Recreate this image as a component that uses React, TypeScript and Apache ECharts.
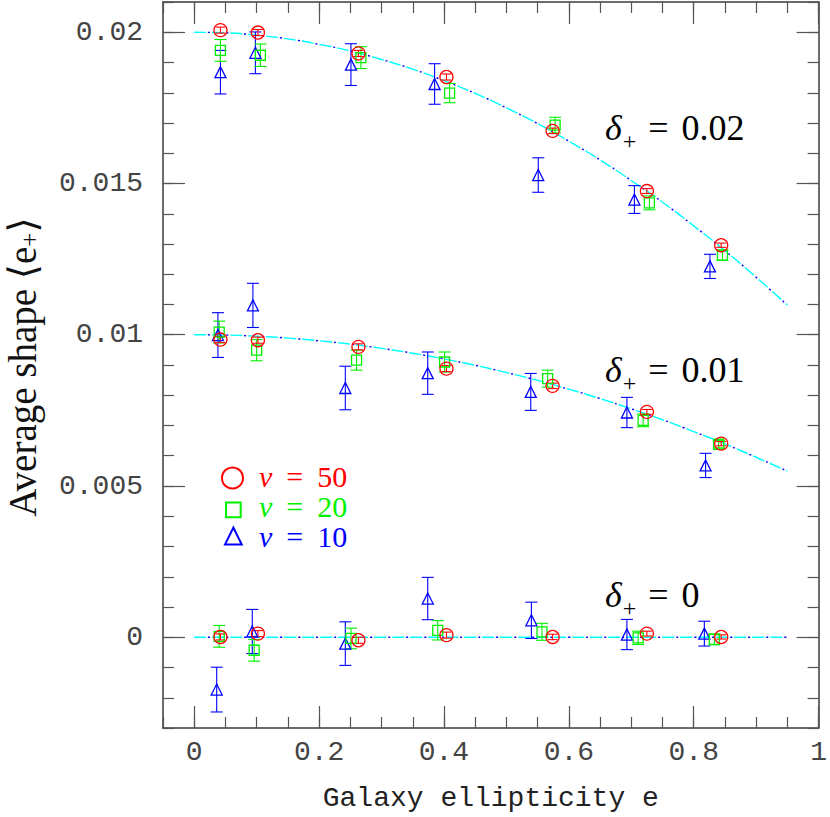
import React, { useEffect, useRef } from 'react';
import * as echarts from 'echarts';

// ---- axes ----
const xMajorTicks = [0, 0.2, 0.4, 0.6, 0.8, 1];
const xTickLabels = ['0', '0.2', '0.4', '0.6', '0.8', '1'];
const yMajorTicks = [0, 0.005, 0.01, 0.015, 0.02];
const yTickLabels = ['0', '0.005', '0.01', '0.015', '0.02'];

// ---- model curves ----
const curveE = [0, 0.05, 0.1, 0.15, 0.2, 0.25, 0.3, 0.35, 0.4, 0.45, 0.5, 0.55, 0.6, 0.65, 0.7, 0.75, 0.8, 0.85, 0.9, 0.95];
const curveDelta002 = [0.02, 0.01998, 0.0199, 0.01978, 0.0196, 0.01938, 0.0191, 0.01878, 0.0184, 0.01798, 0.0175, 0.01698, 0.0164, 0.01578, 0.0151, 0.01438, 0.0136, 0.01278, 0.0119, 0.01098];
const curveDelta001 = [0.01, 0.00999, 0.00995, 0.00989, 0.0098, 0.00969, 0.00955, 0.00939, 0.0092, 0.00899, 0.00875, 0.00849, 0.0082, 0.00789, 0.00755, 0.00719, 0.0068, 0.00639, 0.00595, 0.00549];
const curveDelta000 = [0, 0, 0, 0, 0, 0, 0, 0, 0, 0, 0, 0, 0, 0, 0, 0, 0, 0, 0, 0];

// ---- nu = 50 (red circles) ----
const nu50E = [0.042, 0.102, 0.263, 0.404, 0.574, 0.725, 0.844];
const nu50Delta002 = [0.02007, 0.01999, 0.0193, 0.01852, 0.01674, 0.01475, 0.01296];
const nu50Delta001 = [0.00984, 0.00982, 0.0096, 0.00888, 0.00831, 0.00745, 0.0064];
const nu50Delta000 = [0.00001, 0.00012, -0.0001, 0.00007, 0.00001, 0.00012, 0.00001];
const nu50Err = [0.0001, 0.0001, 0.0001, 0.0001, 0.00009, 0.00008, 0.00007];

// ---- nu = 20 (green squares) ----
const nu20E002 = [0.042, 0.106, 0.267, 0.409, 0.578, 0.729, 0.846];
const nu20E001 = [0.04, 0.1, 0.26, 0.401, 0.566, 0.719, 0.84];
const nu20E000 = [0.04, 0.096, 0.251, 0.39, 0.557, 0.711, 0.833];
const nu20Delta002 = [0.0194, 0.01924, 0.01916, 0.01799, 0.01693, 0.01436, 0.01263];
const nu20Delta001 = [0.01009, 0.00949, 0.00916, 0.0091, 0.00855, 0.00717, 0.00638];
const nu20Delta000 = [0.00003, -0.00043, -0.00004, 0.00023, 0.00018, -0.00002, -0.00007];
const nu20Err002 = [0.00036, 0.00037, 0.00036, 0.00032, 0.00026, 0.00023, 0.00017];
const nu20Err001 = [0.00036, 0.00035, 0.00033, 0.00033, 0.00028, 0.00021, 0.00012];
const nu20Err000 = [0.00036, 0.00036, 0.00034, 0.00032, 0.00028, 0.00022, 0.00018];

// ---- nu = 10 (blue triangles) ----
const nu10E002 = [0.042, 0.098, 0.251, 0.385, 0.551, 0.705, 0.826];
const nu10E001 = [0.038, 0.094, 0.242, 0.374, 0.539, 0.693, 0.819];
const nu10E000 = [0.036, 0.093, 0.242, 0.374, 0.54, 0.693, 0.817];
const nu10Delta002 = [0.01868, 0.01932, 0.01893, 0.01829, 0.01528, 0.01447, 0.01226];
const nu10Delta001 = [0.00999, 0.01097, 0.00824, 0.00873, 0.00811, 0.00743, 0.00568];
const nu10Delta000 = [-0.00173, 0.00019, -0.00021, 0.00128, 0.00056, 0.00009, 0.00012];
const nu10Err002 = [0.00072, 0.00069, 0.00069, 0.00067, 0.00057, 0.00046, 0.0004];
const nu10Err001 = [0.00074, 0.00073, 0.00072, 0.0007, 0.00061, 0.0005, 0.0004];
const nu10Err000 = [0.00074, 0.00073, 0.00072, 0.0007, 0.0006, 0.0005, 0.00041];

const RED = '#ff0000';
const GREEN = '#00f000';
const BLUE = '#0000ff';
const CYAN = '#00ffff';

const rows = (es: number[], ys: number[], errs: number[]) => es.map((e, i) => [e, ys[i], errs[i]]);

const nu50Rows = [
  ...rows(nu50E, nu50Delta002, nu50Err),
  ...rows(nu50E, nu50Delta001, nu50Err),
  ...rows(nu50E, nu50Delta000, nu50Err),
];
const nu20Rows = [
  ...rows(nu20E002, nu20Delta002, nu20Err002),
  ...rows(nu20E001, nu20Delta001, nu20Err001),
  ...rows(nu20E000, nu20Delta000, nu20Err000),
];
const nu10Rows = [
  ...rows(nu10E002, nu10Delta002, nu10Err002),
  ...rows(nu10E001, nu10Delta001, nu10Err001),
  ...rows(nu10E000, nu10Delta000, nu10Err000),
];

const MONO = '"Liberation Mono", "DejaVu Sans Mono", monospace';
const SERIF = '"Liberation Serif", "DejaVu Serif", serif';

function errorBarSeries(name: string, data: number[][], color: string, cap: number) {
  return {
    type: 'custom',
    name: name + ' err',
    xAxisIndex: 0,
    yAxisIndex: 0,
    data,
    encode: { x: 0, y: 1 },
    z: 3,
    silent: true,
    renderItem: (params: any, api: any) => {
      const x = api.value(0);
      const y = api.value(1);
      const e = api.value(2);
      const lo = api.coord([x, y - e]);
      const hi = api.coord([x, y + e]);
      const st = { stroke: color, lineWidth: 1.1, fill: 'none' };
      return {
        type: 'group',
        children: [
          { type: 'line', shape: { x1: lo[0], y1: lo[1], x2: hi[0], y2: hi[1] }, style: st },
          { type: 'line', shape: { x1: lo[0] - cap, y1: lo[1], x2: lo[0] + cap, y2: lo[1] }, style: st },
          { type: 'line', shape: { x1: hi[0] - cap, y1: hi[1], x2: hi[0] + cap, y2: hi[1] }, style: st },
        ],
      };
    },
  };
}

function markerSeries(name: string, data: number[][], color: string, symbol: string, size: any) {
  return {
    type: 'scatter',
    name,
    xAxisIndex: 0,
    yAxisIndex: 0,
    data: data.map((r) => [r[0], r[1]]),
    symbol,
    symbolSize: size,
    z: 4,
    itemStyle: { color: 'rgba(0,0,0,0)', borderColor: color, borderWidth: 1.3, opacity: 1 },
    emphasis: { disabled: true },
  };
}

function curveSeries(ys: number[]) {
  const data = curveE.map((e, i) => [e, ys[i]]);
  return [
    {
      type: 'line',
      data,
      xAxisIndex: 0,
      yAxisIndex: 0,
      smooth: true,
      showSymbol: false,
      silent: true,
      z: 2,
      lineStyle: { color: CYAN, width: 1.4, type: [12, 6] },
    },
    {
      type: 'line',
      data,
      xAxisIndex: 0,
      yAxisIndex: 0,
      smooth: true,
      showSymbol: false,
      silent: true,
      z: 2,
      lineStyle: { color: BLUE, width: 1.4, type: [2, 16], dashOffset: -14 },
    },
  ];
}

const axisLineStyle = { color: '#3a3a3a', width: 1.5 };
const tickStyle = { color: '#555555', width: 1.2 };

function xAxes() {
  const base = { type: 'value', min: -0.05, max: 1, splitLine: { show: false } };
  return [
    {
      ...base,
      position: 'bottom',
      axisLine: { show: true, onZero: false, lineStyle: axisLineStyle },
      axisTick: { show: true, inside: true, length: 22, customValues: xMajorTicks, lineStyle: tickStyle },
      axisLabel: {
        show: true,
        customValues: xMajorTicks,
        margin: 10,
        fontFamily: MONO,
        fontSize: 28,
        color: '#444444',
        formatter: (v: number) => {
          const i = xMajorTicks.findIndex((t) => Math.abs(t - v) < 1e-9);
          return i >= 0 ? xTickLabels[i] : '';
        },
      },
      name: 'Galaxy ellipticity e',
      nameLocation: 'middle',
      nameGap: 56,
      nameTextStyle: { fontFamily: MONO, fontSize: 28, color: '#222222' },
    },
    {
      ...base,
      position: 'bottom',
      interval: 0.05,
      axisLine: { show: false, onZero: false },
      axisTick: { show: true, inside: true, length: 11, lineStyle: tickStyle },
      axisLabel: { show: false },
    },
    {
      ...base,
      position: 'top',
      axisLine: { show: true, onZero: false, lineStyle: axisLineStyle },
      axisTick: { show: true, inside: true, length: 22, customValues: xMajorTicks, lineStyle: tickStyle },
      axisLabel: { show: false },
    },
    {
      ...base,
      position: 'top',
      interval: 0.05,
      axisLine: { show: false, onZero: false },
      axisTick: { show: true, inside: true, length: 11, lineStyle: tickStyle },
      axisLabel: { show: false },
    },
  ];
}

function yAxes() {
  const base = { type: 'value', min: -0.003, max: 0.021, splitLine: { show: false } };
  return [
    {
      ...base,
      position: 'left',
      axisLine: { show: true, onZero: false, lineStyle: axisLineStyle },
      axisTick: { show: true, inside: true, length: 22, customValues: yMajorTicks, lineStyle: tickStyle },
      axisLabel: {
        show: true,
        customValues: yMajorTicks,
        margin: 20,
        fontFamily: MONO,
        fontSize: 28,
        color: '#444444',
        formatter: (v: number) => {
          const i = yMajorTicks.findIndex((t) => Math.abs(t - v) < 1e-9);
          return i >= 0 ? yTickLabels[i] : '';
        },
      },
    },
    {
      ...base,
      position: 'left',
      interval: 0.001,
      axisLine: { show: false, onZero: false },
      axisTick: { show: true, inside: true, length: 11, lineStyle: tickStyle },
      axisLabel: { show: false },
    },
    {
      ...base,
      position: 'right',
      axisLine: { show: true, onZero: false, lineStyle: axisLineStyle },
      axisTick: { show: true, inside: true, length: 22, customValues: yMajorTicks, lineStyle: tickStyle },
      axisLabel: { show: false },
    },
    {
      ...base,
      position: 'right',
      interval: 0.001,
      axisLine: { show: false, onZero: false },
      axisTick: { show: true, inside: true, length: 11, lineStyle: tickStyle },
      axisLabel: { show: false },
    },
  ];
}

function deltaLabel(value: string, y: number) {
  return {
    type: 'text',
    x: 605,
    y,
    z: 10,
    style: {
      text: `{d|δ}{s|+}{e|=}{n|${value}}`,
      align: 'left',
      verticalAlign: 'middle',
      textAlign: 'left',
      textVerticalAlign: 'middle',
      fill: '#000000',
      fontFamily: SERIF,
      fontSize: 36,
      rich: {
        d: { fontFamily: SERIF, fontSize: 36, fontStyle: 'italic', lineHeight: 50, fill: '#000' },
        s: { fontFamily: SERIF, fontSize: 24, lineHeight: 20, verticalAlign: 'bottom', fill: '#000', padding: [0, 0, 0, 1] },
        e: { fontFamily: SERIF, fontSize: 36, lineHeight: 50, fill: '#000', padding: [0, 0, 0, 12] },
        n: { fontFamily: SERIF, fontSize: 36, lineHeight: 50, fill: '#000', padding: [0, 0, 0, 13] },
      },
    },
  };
}

function legendText(value: string, y: number, color: string) {
  return {
    type: 'text',
    x: 259,
    y,
    z: 10,
    style: {
      text: `{i|ν}{e|=}{n|${value}}`,
      align: 'left',
      verticalAlign: 'middle',
      textAlign: 'left',
      textVerticalAlign: 'middle',
      fill: color,
      fontFamily: SERIF,
      fontSize: 30,
      lineHeight: 27,
      rich: {
        i: { fontFamily: SERIF, fontSize: 30, lineHeight: 27, fontStyle: 'italic', fill: color },
        e: { fontFamily: SERIF, fontSize: 30, lineHeight: 27, fill: color, padding: [0, 0, 0, 14] },
        n: { fontFamily: SERIF, fontSize: 30, lineHeight: 27, fill: color, padding: [0, 0, 0, 14] },
      },
    },
  };
}

export default function App() {
  const ref = useRef<HTMLDivElement>(null);
  useEffect(() => {
    if (!ref.current) return;
    const chart = echarts.init(ref.current, undefined, { renderer: 'svg' });
    const option: any = {
      animation: false,
      backgroundColor: '#ffffff',
      grid: { left: 163, right: 7, top: 2, bottom: 88 },
      xAxis: xAxes(),
      yAxis: yAxes(),
      series: [
        ...curveSeries(curveDelta002),
        ...curveSeries(curveDelta001),
        ...curveSeries(curveDelta000),
        errorBarSeries('ν = 10', nu10Rows, BLUE, 6),
        errorBarSeries('ν = 20', nu20Rows, GREEN, 6),
        errorBarSeries('ν = 50', nu50Rows, RED, 5),
        markerSeries('ν = 10', nu10Rows, BLUE, 'triangle', [11, 11]),
        markerSeries('ν = 20', nu20Rows, GREEN, 'rect', 10),
        markerSeries('ν = 50', nu50Rows, RED, 'circle', 13),
      ],
      graphic: [
        {
          type: 'text',
          x: 22,
          y: 367,
          rotation: Math.PI / 2,
          z: 10,
          style: {
            text: 'Average shape ⟨e{s|+}⟩',
            align: 'center',
            verticalAlign: 'middle',
            textAlign: 'center',
            textVerticalAlign: 'middle',
            fill: '#111111',
            fontFamily: SERIF,
            fontSize: 39,
            lineHeight: 40,
            rich: {
              s: { fontFamily: SERIF, fontSize: 25, lineHeight: 18, verticalAlign: 'bottom', fill: '#111111' },
            },
          },
        },
        deltaLabel('0.02', 128),
        deltaLabel('0.01', 370),
        deltaLabel('0', 595),
        { type: 'circle', z: 10, shape: { cx: 232.5, cy: 478, r: 10.5 }, style: { fill: 'none', stroke: RED, lineWidth: 2 } },
        { type: 'rect', z: 10, shape: { x: 226, y: 502.5, width: 14.7, height: 14.7 }, style: { fill: 'none', stroke: GREEN, lineWidth: 2 } },
        {
          type: 'polygon',
          z: 10,
          shape: { points: [[225, 544.5], [241.7, 544.5], [233.4, 527.5]] },
          style: { fill: 'none', stroke: BLUE, lineWidth: 2 },
        },
        legendText('50', 476.5, RED),
        legendText('20', 506.5, GREEN),
        legendText('10', 536.5, BLUE),
      ],
    };
    chart.setOption(option);
    return () => chart.dispose();
  }, []);
  return (
    <div
      ref={ref}
      style={{ position: 'fixed', left: 0, top: 0, width: 830, height: 817, background: '#ffffff' }}
    />
  );
}
